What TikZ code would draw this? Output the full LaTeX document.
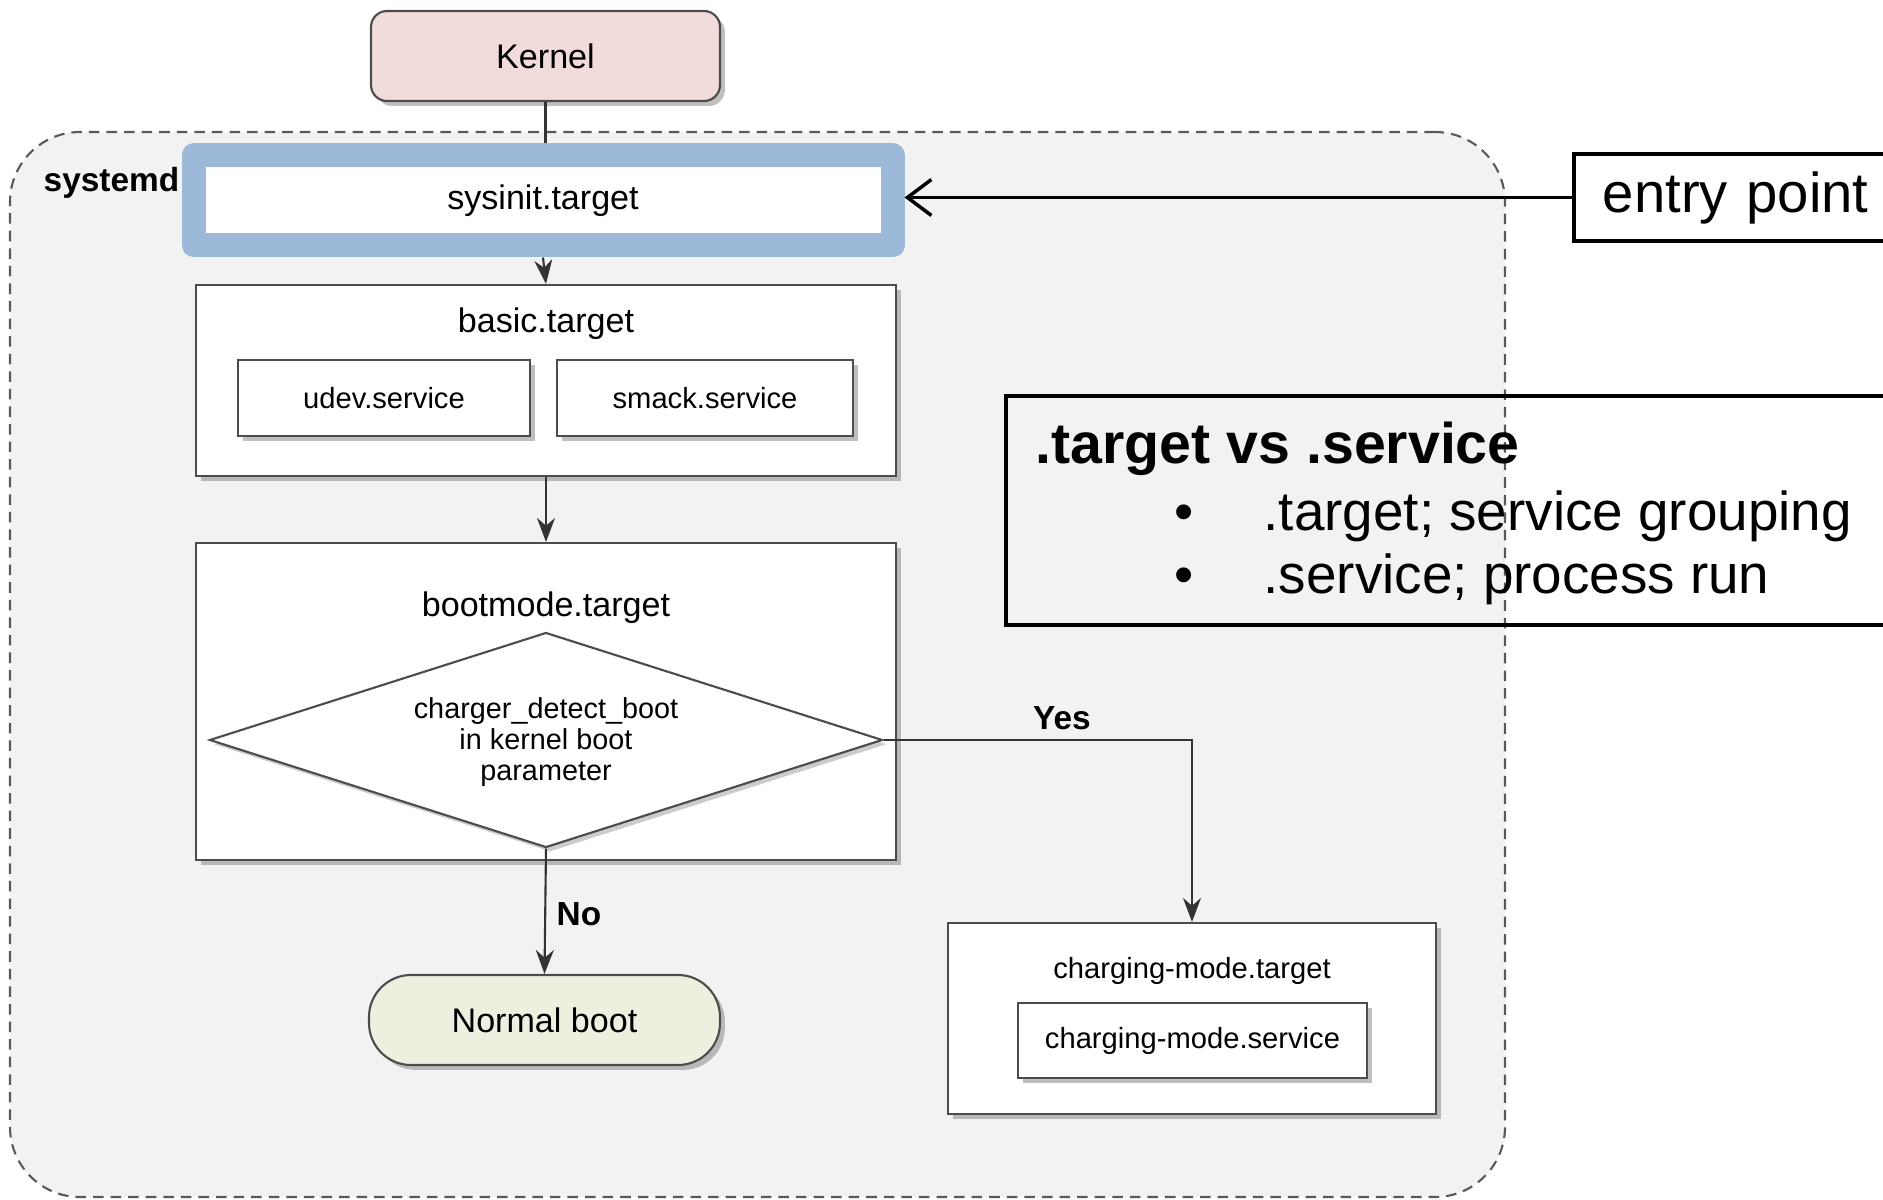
\documentclass[tikz,border=0pt]{standalone}
\usepackage{fontspec}
\setmainfont{Liberation Sans}
\usetikzlibrary{arrows.meta,positioning,calc,shapes.geometric,shadows}

\definecolor{sysgray}{HTML}{F2F2F2}
\definecolor{kernelpink}{HTML}{F2DCDB}
\definecolor{hiblue}{HTML}{9DB9DA}
\definecolor{bootgreen}{HTML}{EBF1DE}

\begin{document}
\begin{tikzpicture}[
  x=0.1mm, y=-0.1mm,
  >={Stealth[length=2.4mm,width=1.8mm]},
  flow/.style={draw=black!80, line width=0.6pt},
  unit/.style={draw=black!70, fill=white, line width=0.6pt, inner sep=0pt,
    drop shadow={shadow xshift=1.4pt, shadow yshift=-1.4pt, opacity=0.5}},
  region/.style={draw=black!65, fill=sysgray, densely dashed, line width=0.6pt, rounded corners=7mm},
  decision/.style={diamond, aspect=3.1, inner sep=0pt, draw=black!70, fill=white, line width=0.6pt,
    drop shadow={shadow xshift=1.2pt, shadow yshift=-1.2pt, opacity=0.4}},
  note/.style={draw=black, line width=1.1pt},
  lab/.style={font=\fontsize{9.7}{11}\selectfont},
  small/.style={font=\fontsize{8.3}{8.9}\selectfont},
  bold/.style={font=\fontsize{9.5}{11}\selectfont\bfseries, inner sep=0pt},
  big/.style={font=\fontsize{15.6}{19}\selectfont}
]
\useasboundingbox (0,0) rectangle (1883,1200);

% systemd area
\node[region, minimum width=149.5mm, minimum height=106.5mm] (sysd) at (757.5,664.5) {};
\node[bold, anchor=west] (sysdlbl) at (43,183) {systemd};

% kernel and entry target
\node[unit, fill=kernelpink, rounded corners=1.6mm, minimum width=34.9mm, minimum height=9mm, lab] (kernel) at (545.5,56) {Kernel};
\node[draw=hiblue, line width=2.4mm, line join=round, fill=white, minimum width=69.9mm, minimum height=9.0mm, lab] (sysinit) at (543,200.5) {sysinit.target};
\draw[flow] (kernel.south) -- (kernel.south |- sysinit.north);

% basic.target
\node[unit, minimum width=70mm, minimum height=19.1mm] (basic) at (546,380.5) {};
\node[lab] (basiclbl) at (546,324) {basic.target};
\node[unit, minimum width=29.2mm, minimum height=7.6mm, small] (udev) at (384,398) {udev.service};
\node[unit, minimum width=29.6mm, minimum height=7.6mm, small] (smack) at (705,398) {smack.service};
\draw[flow,->] (sysinit.south) -- (basic.north);

% bootmode.target with the decision
\node[unit, minimum width=70mm, minimum height=31.7mm] (bootmode) at (546,701.5) {};
\node[lab] (bootlbl) at (546,608) {bootmode.target};
\node[decision, minimum width=67.3mm, minimum height=21.5mm] (dec) at (546,740) {};
\node[small, align=center, font=\fontsize{8.2}{8.85}\selectfont] (dectext) at (546,742) {charger\_detect\_boot\\in kernel boot\\parameter};
\draw[flow,->] (basic.south) -- (bootmode.north);

% outcomes
\node[unit, fill=bootgreen, rounded corners=4.2mm, minimum width=35.1mm, minimum height=9mm, lab] (normal) at (544.5,1020) {Normal boot};
\node[unit, minimum width=48.8mm, minimum height=19.1mm] (chg) at (1192,1018.5) {};
\node[small] (chglbl) at (1192,971) {charging-mode.target};
\node[unit, minimum width=34.9mm, minimum height=7.5mm, small] (chgsvc) at (1192.5,1040.5) {charging-mode.service};

\draw[flow,->] (dec.south) -- (normal.north);
\node[bold, anchor=west] (nolbl) at (556,914) {No};
\draw[flow,->] (dec.east) -| (chg.north);
\node[bold] (yeslbl) at (1062,718) {Yes};

% notes on the right
\node[note, anchor=west, minimum height=8.7mm, text width=30mm, inner xsep=2.9mm, big, font=\fontsize{16}{19}\selectfont] (entry) at (1572,197.5) {entry point};
\draw[line width=1pt, -{Straight Barb[length=2.4mm,width=3.6mm,line width=1pt]}] (entry.west) -- (entry.west -| sysinit.east);

\node[note, anchor=north west, minimum width=90mm, minimum height=22.9mm] (vsbox) at (1004,394) {};
\node[font=\fontsize{16.3}{19}\selectfont\bfseries, anchor=west, inner sep=0pt] (vstitle) at (1035,449) {.target vs .service};
\node[big] (dot1) at (1184,518) {\textbullet};
\node[big, anchor=west, inner sep=0pt] (item1) at (1263,516) {.target; service grouping};
\node[big] (dot2) at (1184,581) {\textbullet};
\node[big, anchor=west, inner sep=0pt] (item2) at (1263,579) {.service; process run};
\end{tikzpicture}
\end{document}
